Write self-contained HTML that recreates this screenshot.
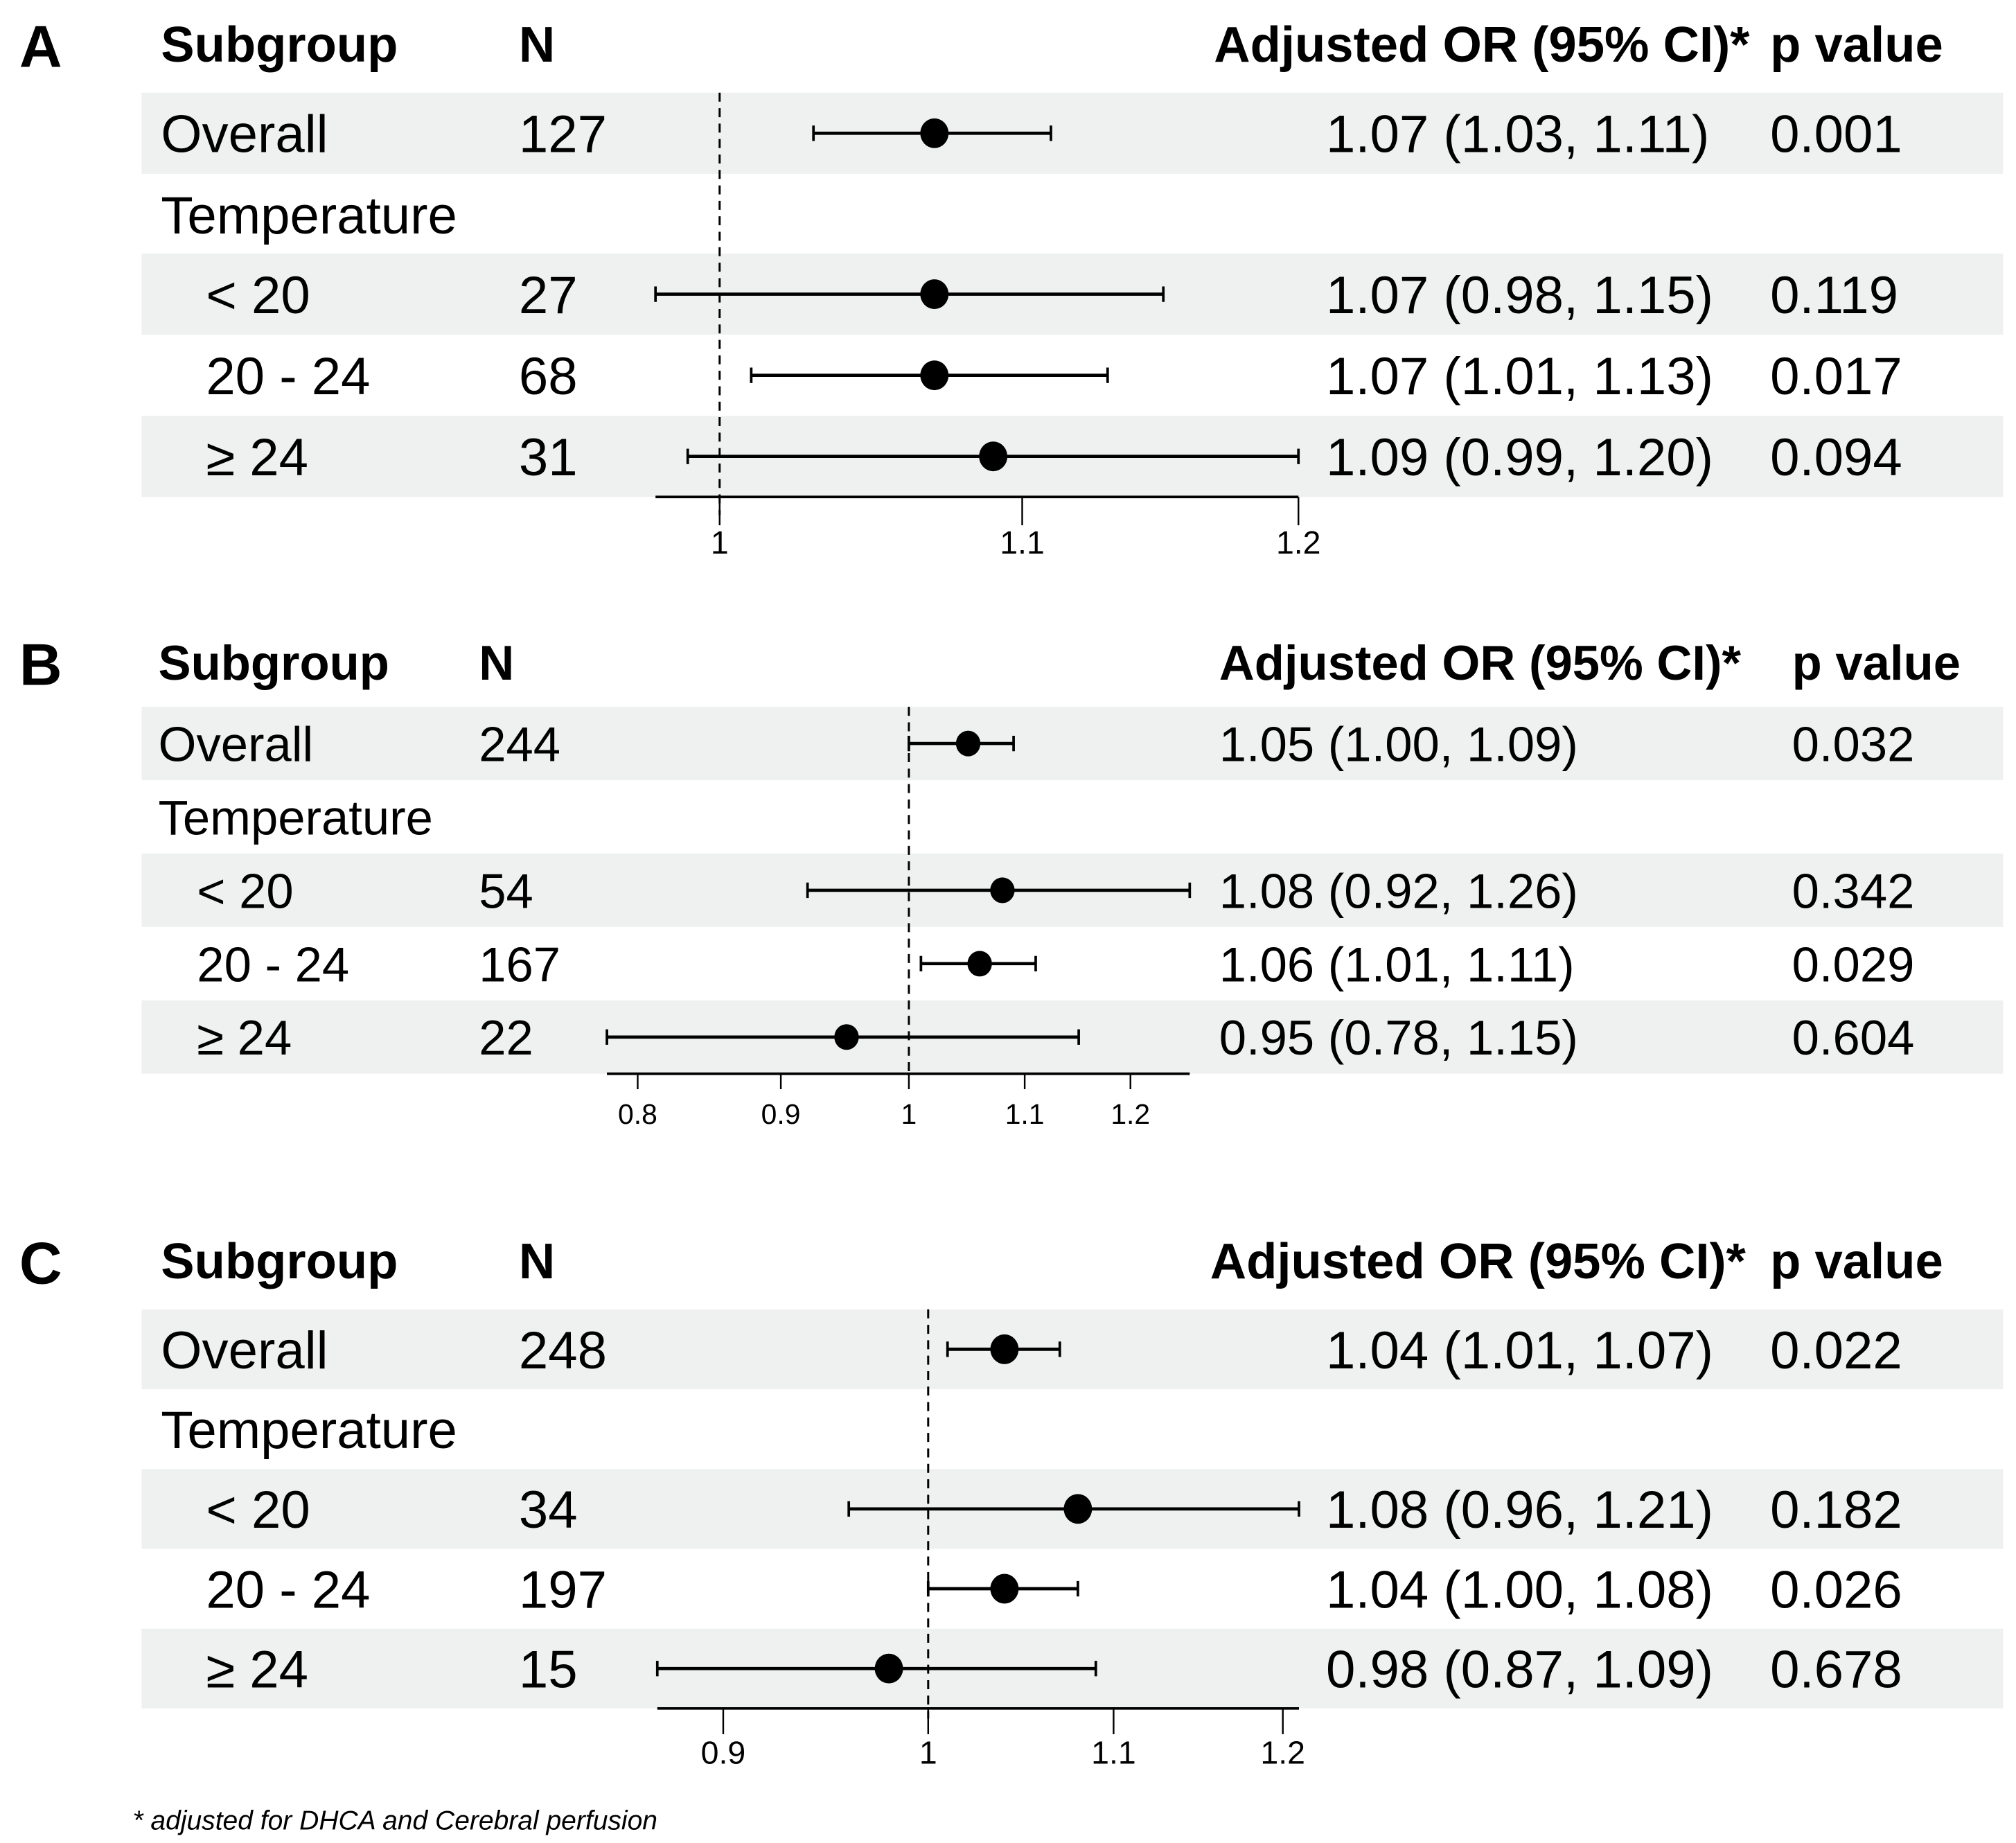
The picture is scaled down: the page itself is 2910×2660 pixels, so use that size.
<!DOCTYPE html>
<html><head><meta charset="utf-8">
<style>
html,body{margin:0;padding:0;background:#fff;}
svg{display:block;}
text{font-family:"Liberation Sans",Arial,sans-serif;fill:#000;}
</style></head>
<body>
<svg id="fig" xmlns="http://www.w3.org/2000/svg" width="2910" height="2660" viewBox="0 0 1566 1431.5" preserveAspectRatio="none">
<text x="103" y="1421" font-size="21" font-style="italic">* adjusted for DHCA and Cerebral perfusion</text>
</svg>
<script>
// ---- data ----
const rowLabels = ["Overall","Temperature","< 20","20 - 24","\u2265 24"];
const aN = ["127","","27","68","31"];
const aOR = [1.07,null,1.07,1.07,1.09];
const aLo = [1.03,null,0.98,1.01,0.99];
const aHi = [1.11,null,1.15,1.13,1.20];
const aText = ["1.07 (1.03, 1.11)","","1.07 (0.98, 1.15)","1.07 (1.01, 1.13)","1.09 (0.99, 1.20)"];
const aP = ["0.001","","0.119","0.017","0.094"];
const aTicks = [1,1.1,1.2];
const aTickLabels = ["1","1.1","1.2"];
const aAxisRange = [0.98,1.20];

const bN = ["244","","54","167","22"];
const bOR = [1.05,null,1.08,1.06,0.95];
const bLo = [1.00,null,0.92,1.01,0.78];
const bHi = [1.09,null,1.26,1.11,1.15];
const bText = ["1.05 (1.00, 1.09)","","1.08 (0.92, 1.26)","1.06 (1.01, 1.11)","0.95 (0.78, 1.15)"];
const bP = ["0.032","","0.342","0.029","0.604"];
const bTicks = [0.8,0.9,1,1.1,1.2];
const bTickLabels = ["0.8","0.9","1","1.1","1.2"];
const bAxisRange = [0.78,1.26];

const cN = ["248","","34","197","15"];
const cOR = [1.04,null,1.08,1.04,0.98];
const cLo = [1.01,null,0.96,1.00,0.87];
const cHi = [1.07,null,1.21,1.08,1.09];
const cText = ["1.04 (1.01, 1.07)","","1.08 (0.96, 1.21)","1.04 (1.00, 1.08)","0.98 (0.87, 1.09)"];
const cP = ["0.022","","0.182","0.026","0.678"];
const cTicks = [0.9,1,1.1,1.2];
const cTickLabels = ["0.9","1","1.1","1.2"];
const cAxisRange = [0.87,1.21];

const NS="http://www.w3.org/2000/svg";
const svg=document.getElementById('fig');
function mk(tag,attrs,parent){const e=document.createElementNS(NS,tag);for(const k in attrs)e.setAttribute(k,attrs[k]);(parent||svg).appendChild(e);return e;}

function panel(letter,L,N,OR,LO,HI,TX,P,ticks,tickLabels,range){
  const g=mk('g',{});
  
  
  const x=v=>L.x1+(Math.log(v))*L.k;
  [0,2,4].forEach(i=>{
    const r=mk('rect',{x:110,y:L.rowTop[i],width:1446,height:L.rowH,fill:'#eff1f0'},g);
    
    
  });
  const lt=mk('text',{x:15,y:L.hy+4,'font-size':46,'font-weight':'bold'},g);lt.textContent=letter;
  
  
  const hdr=[["Subgroup",L.xs],["N",L.xn],["Adjusted OR (95% CI)*",L.xt],["p value",L.xp]];
  hdr.forEach(h=>{const t=mk('text',{x:h[1],y:L.hy,'font-size':L.hf,'font-weight':'bold'},g);t.textContent=h[0];
    
    });
  const bandBottom=L.rowTop[4]+L.rowH;
  for(let i=0;i<5;i++){
    const cy=L.rowTop[i]+L.rowH/2, by=cy+L.ff*0.36;
    const lx=(i>=2)?L.xi:L.xs;
    const t=mk('text',{x:lx,y:by,'font-size':L.ff},g);t.textContent=L.labels[i];
    
    
    if(N[i]){const n=mk('text',{x:L.xn,y:by,'font-size':L.ff},g);n.textContent=N[i];
      
      }
    if(TX[i]){const o=mk('text',{x:L.xt2,y:by,'font-size':L.ff},g);o.textContent=TX[i];
      
      }
    if(P[i]){const p=mk('text',{x:L.xp2,y:by,'font-size':L.ff},g);p.textContent=P[i];
      
      }
    if(OR[i]!=null){
      const l=mk('line',{x1:x(LO[i]),x2:x(HI[i]),y1:cy,y2:cy,stroke:'#000','stroke-width':2.5},g);
      
      
      [LO[i],HI[i]].forEach(v=>{const c=mk('line',{x1:x(v),x2:x(v),y1:cy-6,y2:cy+6,stroke:'#000','stroke-width':2},g);
        
        });
      const pt=mk('ellipse',{cx:x(OR[i]),cy:cy,rx:L.r,ry:L.r*1.05,fill:'#000'},g);
      
      
    }
  }
  const dl=mk('line',{x1:x(1),x2:x(1),y1:L.rowTop[0],y2:bandBottom+L.dashExt,stroke:'#000','stroke-width':1.6,'stroke-dasharray':'7,5'},g);
  
  
  const ax=mk('line',{x1:x(range[0]),x2:x(range[1]),y1:bandBottom,y2:bandBottom,stroke:'#000','stroke-width':2},g);
  
  
  ticks.forEach((v,j)=>{
    const tk=mk('line',{x1:x(v),x2:x(v),y1:bandBottom,y2:bandBottom+L.tickLen,stroke:'#000','stroke-width':1.3},g);
    
    
    const tl=mk('text',{x:x(v),y:L.tly,'font-size':L.tf,'text-anchor':'middle'},g);tl.textContent=tickLabels[j];
    
    
  });
}
panel('A',{x1:559,k:2466,rowTop:[72,135,197,260,323],rowH:63,hy:48,hf:39,ff:41,xs:125,xi:160,xn:403,xt:943,xt2:1030,xp:1375,xp2:1375,r:11,tickLen:22,tly:430,tf:25,dashExt:14,labels:rowLabels},
  aN,aOR,aLo,aHi,aText,aP,aTicks,aTickLabels,aAxisRange);
panel('B',{x1:706,k:944,rowTop:[549,606,663,720,777],rowH:57,hy:528,hf:38,ff:38,xs:123,xi:153,xn:372,xt:947,xt2:947,xp:1392,xp2:1392,r:9.5,tickLen:12,tly:873,tf:22,dashExt:0,labels:rowLabels},
  bN,bOR,bLo,bHi,bText,bP,bTicks,bTickLabels,bAxisRange);
panel('C',{x1:721,k:1511,rowTop:[1017,1079,1141,1203,1265],rowH:62,hy:993,hf:39,ff:41,xs:125,xi:160,xn:403,xt:940,xt2:1030,xp:1375,xp2:1375,r:11,tickLen:20,tly:1370,tf:25,dashExt:8,labels:rowLabels},
  cN,cOR,cLo,cHi,cText,cP,cTicks,cTickLabels,cAxisRange);
</script>
</body></html>
